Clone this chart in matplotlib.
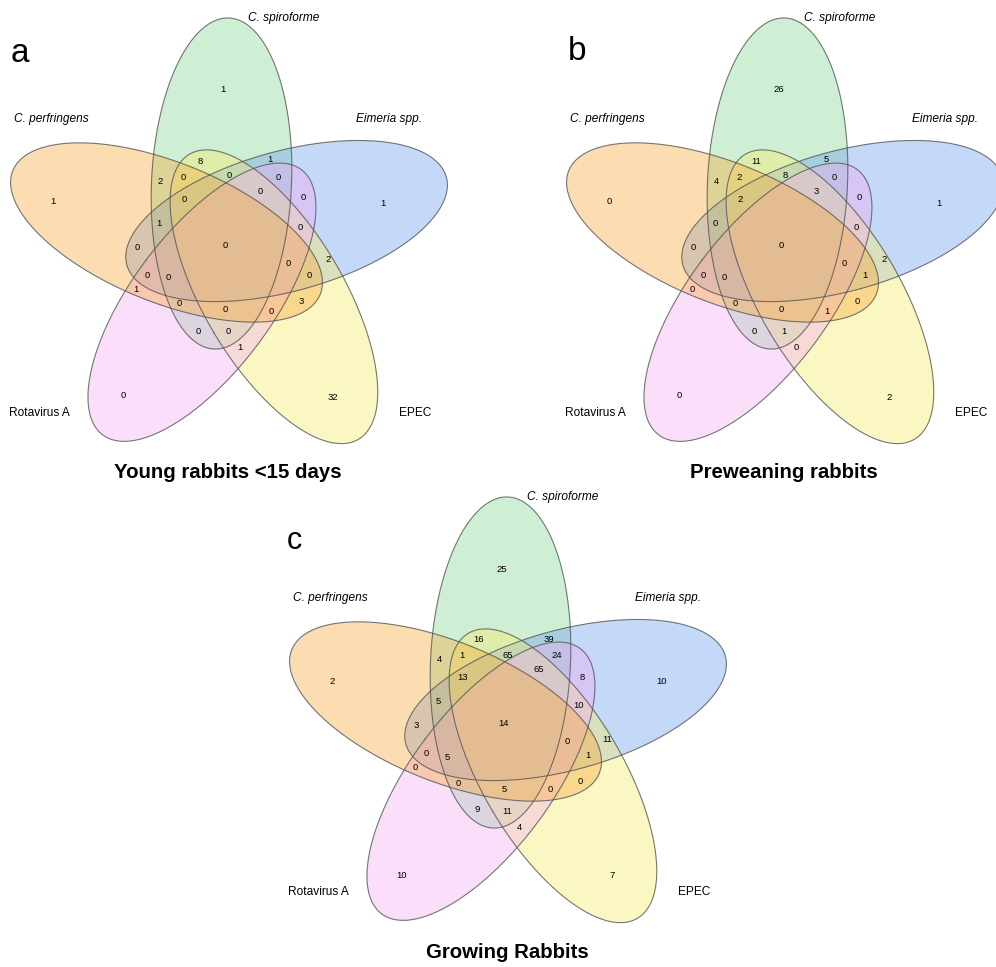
import numpy as np
import matplotlib.pyplot as plt

plt.rcParams['font.family'] = ['Liberation Sans', 'DejaVu Sans']

# set names, clockwise from the top
set_names = ['C. spiroforme', 'Eimeria spp.', 'EPEC', 'Rotavirus A', 'C. perfringens']
set_italic = [True, True, False, False, True]
set_colors = ['#85D991', '#6C9EEE', '#F7ED69', '#F3ADF3', '#F7AA3E']

panel_letters = ['a', 'b', 'c']
panel_titles = ['Young rabbits <15 days', 'Preweaning rabbits', 'Growing Rabbits']

# region counts, in the order of the label slots below
counts_a = [8, 1, 2, 0, 0, 0, 0, 0, 0, 1, 0, 0, 0, 2, 0, 0, 0, 0, 1, 0, 0, 0, 3, 0, 0, 1,
            1, 1, 1, 0, 32]
counts_b = [11, 5, 4, 2, 8, 0, 2, 3, 0, 0, 0, 0, 0, 2, 0, 0, 0, 1, 0, 0, 0, 1, 0, 0, 1, 0,
            26, 0, 1, 0, 2]
counts_c = [16, 39, 4, 1, 65, 24, 13, 65, 8, 5, 10, 3, 14, 11, 0, 0, 5, 1, 0, 0, 5, 0, 0, 9, 11, 4,
            25, 2, 10, 10, 7]
all_counts = [counts_a, counts_b, counts_c]

# label slots (pixels, panel c frame)
slots = [(479, 640), (549, 639), (439, 660), (462, 656), (508, 655), (557, 656),
         (463, 678), (539, 670), (582, 677), (438, 702), (579, 706), (416, 726),
         (504, 724), (607, 739), (567, 742), (426, 754), (447, 757), (588, 755),
         (415, 768), (458, 783), (504, 789), (550, 790), (580, 781), (477, 810),
         (507, 811), (519, 827),
         (502, 569), (332, 681), (662, 682), (402, 875), (612, 876)]
name_pos = [(563, 497), (668, 598), (694, 892), (318, 892), (330, 598)]

panel_shift = [(-279, -479), (277, -479), (0, 0)]

# ellipse geometry (panel c frame): one ellipse turned in steps of 72 deg,
# plus small per-ellipse corrections (dx, dy, dtilt)
centre = (506, 728)
green_c = (500.5, 662.5)
semi_minor, semi_major = 70, 165.7
tilt0 = 2.6
tweak = [(0, 0, 0), (-1, -2.5, 0), (4, -2, 2.7), (9, -3, -1.8), (3.5, -1.5, 1.3)]

fig = plt.figure(figsize=(9.96, 9.67), dpi=100)
ax = fig.add_axes([0, 0, 1, 1])
ax.set_xlim(0, 996)
ax.set_ylim(967, 0)
ax.axis('off')

t = np.linspace(0, 2 * np.pi, 400)


def rot(dx, dy, deg):
    r = np.deg2rad(deg)
    return dx * np.cos(r) - dy * np.sin(r), dx * np.sin(r) + dy * np.cos(r)


for p in range(3):
    sx, sy = panel_shift[p]
    outlines = []
    for k in range(5):
        ang = 72 * k
        ox, oy = rot(green_c[0] - centre[0], green_c[1] - centre[1], ang)
        tx, ty, tt = tweak[k]
        ex, ey = centre[0] + ox + sx + tx, centre[1] + oy + sy + ty
        px, py = rot(semi_minor * np.cos(t), semi_major * np.sin(t), tilt0 + ang + tt)
        ax.fill(ex + px, ey + py, color=set_colors[k], alpha=0.4, lw=0)
        outlines.append((ex + px, ey + py))
    for xs, ys in outlines:
        ax.plot(xs, ys, color='#555555', lw=0.8, alpha=0.8)

    for (x, y), n in zip(slots, all_counts[p]):
        ax.text(x + sx, y + sy, str(n), ha='center', va='center', fontsize=6.8)
    for k in range(5):
        x, y = name_pos[k]
        ax.text(x + sx, y + sy, set_names[k], ha='center', va='center', fontsize=8.6,
                style='italic' if set_italic[k] else 'normal')
    ax.text(507 + sx, 952 + sy, panel_titles[p], ha='center', va='center',
            fontsize=14.7, fontweight='bold')

ax.text(20, 53, 'a', ha='center', va='center', fontsize=24)
ax.text(577, 51, 'b', ha='center', va='center', fontsize=24)
ax.text(294, 541, 'c', ha='center', va='center', fontsize=22)

fig.savefig('out.png', dpi=100)
